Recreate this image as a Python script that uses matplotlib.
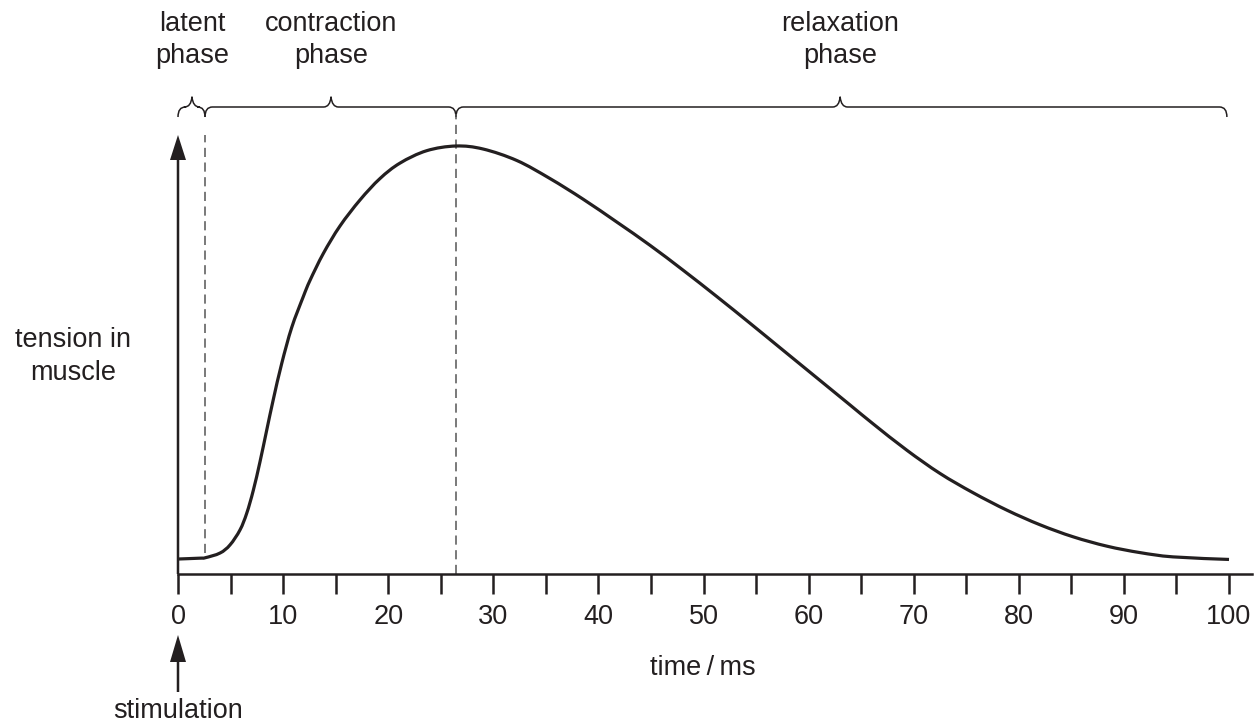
import matplotlib
matplotlib.use("Agg")
import matplotlib.pyplot as plt
from matplotlib.path import Path
from matplotlib.patches import PathPatch

# ---- data ----
time_ms = [0, 2.1, 2.6, 4.0, 4.95, 5.9, 6.54, 7.16, 7.8, 8.44, 9.07, 9.87, 10.82,
           11.92, 12.56, 13.83, 15.41, 17.32, 19.22, 21.12, 23.66, 26.45,
           29.02, 32.25, 35.39, 38.53, 41.77, 44.91, 48.05, 51.28, 54.42, 57.56,
           60.8, 63.94, 66.13, 69.36, 72.5, 75.64, 78.88, 82.02, 85.16, 88.39,
           91.53, 94.67, 100]
tension = [3.5, 3.7, 3.8, 4.9, 6.8, 10.3, 14.2, 19.5, 26.2, 33.6, 40.8, 49.2, 57.6,
           64.8, 68.6, 74.9, 81.3, 87.4, 92.4, 96.0, 98.9, 100.0,
           99.3, 96.6, 92.4, 87.6, 82.2, 76.8, 71.0, 64.8, 58.6, 52.3,
           45.8, 39.5, 35.1, 28.9, 23.5, 19.0, 14.9, 11.5, 8.7, 6.5,
           5.0, 4.0, 3.4]
major_ticks = list(range(0, 101, 10))
minor_ticks = list(range(5, 100, 10))
latent_end = 2.57
contraction_end = 26.45
relax_end = 99.8
phase_labels = [("latent", "phase"), ("contraction", "phase"), ("relaxation", "phase")]
phase_tips = [1.33, 14.56, 63.0]

W, H = 1257, 728
fig = plt.figure(figsize=(W / 100, H / 100), dpi=100)
ax = fig.add_axes([0, 0, 1, 1])

# pixel <-> data helpers (for layout only)
PX_PER_T = 10.51
X0 = 178
Y0 = 574
T_PER_PX = 100 / 428.0
def tx(px):
    return (px - X0) / PX_PER_T
def ty(py):
    return (Y0 - py) * T_PER_PX

ax.set_xlim(tx(0), tx(W))
ax.set_ylim(ty(H), ty(0))
ax.set_facecolor("white")

INK = "#231f20"
FONT = ["Liberation Sans", "DejaVu Sans"]
FS = 19.5
plt.rcParams["font.family"] = FONT

for s in ["top", "right", "left"]:
    ax.spines[s].set_visible(False)
ax.spines["bottom"].set_position(("data", 0))
ax.spines["bottom"].set_bounds(0, tx(1252))
ax.spines["bottom"].set_linewidth(1.8)
ax.spines["bottom"].set_color(INK)
ax.yaxis.set_visible(False)
ax.set_xticks(major_ticks)
ax.set_xticks(minor_ticks, minor=True)
ax.set_xticklabels([str(v) for v in major_ticks])
ax.tick_params(axis="x", which="both", direction="out", length=14.4, width=1.8,
               color=INK)
ax.tick_params(axis="x", which="major", pad=7.5, labelsize=FS, labelcolor=INK)
for lab in ax.get_xticklabels():
    lab.set_family(FONT)

# curve: smooth Catmull-Rom path through the read points
def smooth_path(xs, ys):
    pts = list(zip(xs, ys))
    n = len(pts)
    verts = [pts[0]]
    codes = [Path.MOVETO]
    for i in range(n - 1):
        p0 = pts[i - 1] if i > 0 else pts[i]
        p1 = pts[i]
        p2 = pts[i + 1]
        p3 = pts[i + 2] if i + 2 < n else pts[i + 1]
        c1 = (p1[0] + (p2[0] - p0[0]) / 6.0, p1[1] + (p2[1] - p0[1]) / 6.0)
        c2 = (p2[0] - (p3[0] - p1[0]) / 6.0, p2[1] - (p3[1] - p1[1]) / 6.0)
        verts += [c1, c2, p2]
        codes += [Path.CURVE4] * 3
    return Path(verts, codes)

ax.add_patch(PathPatch(smooth_path(time_ms, tension), fill=False, ec=INK, lw=2.3,
                       capstyle="butt", joinstyle="round", zorder=3))

# y axis arrow
shaft_w = 2.5 / PX_PER_T
ax.arrow(0, 0, 0, ty(135) - 0, width=shaft_w, head_width=16 / PX_PER_T,
         head_length=25 * T_PER_PX, length_includes_head=True, color=INK, lw=0,
         zorder=4)
# stimulation arrow
ax.arrow(0, ty(692), 0, ty(635) - ty(692), width=shaft_w, head_width=16 / PX_PER_T,
         head_length=27 * T_PER_PX, length_includes_head=True, color=INK, lw=0,
         clip_on=False)

# dashed lines
ax.plot([latent_end, latent_end], [ty(553), ty(135)], color="#555555", lw=1.1,
        ls=(0, (6, 3.6)))
ax.plot([contraction_end, contraction_end], [0, ty(114)], color="#555555", lw=1.1,
        ls=(0, (6, 3.6)))

# braces
def brace(xa, xb, xm):
    r = 0.7
    ylow, ymid, ytop = ty(117), ty(107), ty(97)
    verts = [(xa, ylow), (xa, ymid), (xa + r, ymid),
             (xm - r, ymid), (xm - 0.1, ymid), (xm, ytop),
             (xm + 0.1, ymid), (xm + r, ymid),
             (xb - r, ymid), (xb, ymid), (xb, ylow)]
    codes = [Path.MOVETO, Path.CURVE3, Path.CURVE3,
             Path.LINETO, Path.CURVE3, Path.CURVE3,
             Path.CURVE3, Path.CURVE3,
             Path.LINETO, Path.CURVE3, Path.CURVE3]
    ax.add_patch(PathPatch(Path(verts, codes), fill=False, lw=1.1, ec=INK,
                           capstyle="butt", joinstyle="round"))

bounds = [0, latent_end, contraction_end, relax_end]
for i in range(3):
    brace(bounds[i], bounds[i + 1], phase_tips[i])
    l1, l2 = phase_labels[i]
    ax.text(phase_tips[i], ty(31), l1, ha="center", va="baseline", fontsize=FS,
            color=INK)
    ax.text(phase_tips[i], ty(63), l2, ha="center", va="baseline", fontsize=FS,
            color=INK)

# axis labels
ax.text(tx(73), ty(347), "tension in", ha="center", va="baseline", fontsize=FS,
        color=INK)
ax.text(tx(73), ty(380), "muscle", ha="center", va="baseline", fontsize=FS,
        color=INK)
ax.text(tx(703), ty(675), "time\u2009/\u2009ms", ha="center", va="baseline",
        fontsize=FS, color=INK)
ax.text(0, ty(718), "stimulation", ha="center", va="baseline", fontsize=FS,
        color=INK)

fig.savefig("out.png", dpi=100, facecolor="white")
